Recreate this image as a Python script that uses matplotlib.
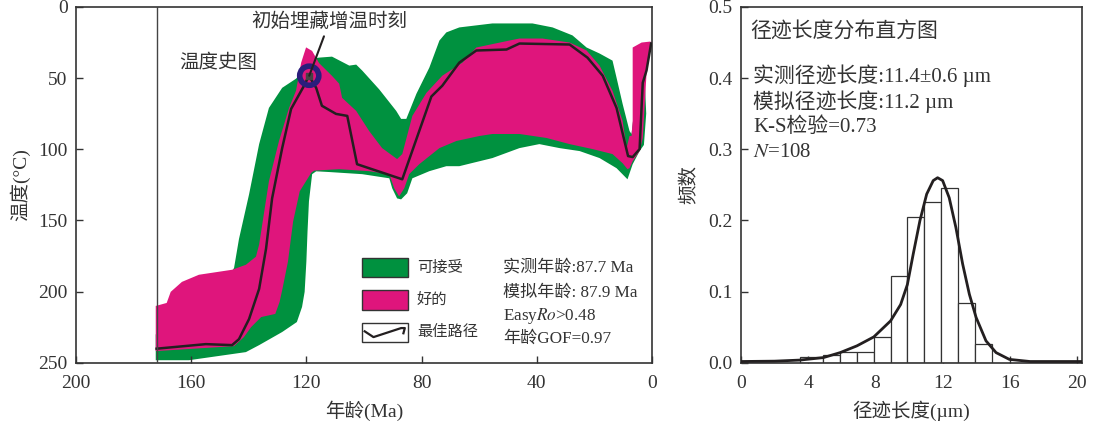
import matplotlib
matplotlib.use("Agg")
import matplotlib.pyplot as plt
from matplotlib.patches import Polygon, Rectangle

plt.rcParams['font.family'] = ['Liberation Serif', 'Noto Sans CJK SC']
plt.rcParams['mathtext.fontset'] = 'stix'
plt.rcParams['axes.unicode_minus'] = False

# ---- thermal history (age in Ma, temperature in degC) ----
accept_age = [172.3, 145.8, 145.1, 143.4, 139.9, 136.4, 133.0, 128.4, 123.6, 121.0, 118.0,
              115.6, 111.1, 105.1, 102.7, 100.6, 94.7, 88.8, 87.1, 85.3, 81.8, 77.3, 73.8,
              71.4, 66.9, 55.4, 41.5, 34.5, 27.6, 22.7, 18.2, 13.7, 12.3, 10.2, 7.8, 7.1,
              6.0, 2.5, 2.0, 2.8, 4.3, 6.7, 8.5, 12.3, 18.2, 25.1, 32.1, 39.1, 46.0, 55.4,
              66.9, 71.4, 77.3, 83.2, 85.0, 87.1, 88.5, 90.2, 91.2, 100.6, 112.1, 116.6,
              118.0, 119.1, 119.6, 120.0, 120.6, 121.5, 123.3, 128.4, 136.4, 141.0, 160.8,
              172.3]
accept_temp = [230.0, 186.0, 183.2, 163.0, 131.7, 96.4, 71.0, 56.9, 50.5, 45.0, 36.4,
               35.7, 35.0, 41.3, 40.6, 44.8, 58.0, 73.1, 78.7, 78.7, 61.1, 42.7, 23.7,
               18.0, 14.5, 11.7, 11.7, 14.5, 20.1, 28.6, 32.8, 37.8, 49.8, 68.1, 87.2, 89.3,
               70.0, 52.0, 75.0, 97.0, 101.3, 110.5, 121.1, 113.3, 106.2, 101.3, 99.2, 96.4,
               99.2, 106.2, 111.9, 111.9, 115.4, 120.4, 130.9, 135.2, 134.5, 127.4, 120.4,
               117.5, 116.0, 115.5, 117.5, 136.5, 157.8, 178.9, 200.1, 210.7, 221.3, 228.3,
               237.5, 242.4, 248.1, 248.1]

good_age = [172.3, 168.5, 167.1, 163.2, 157.3, 145.8, 141.0, 137.5, 136.4, 133.0, 129.5,
            126.0, 123.6, 121.8, 120.1, 118.0, 115.6, 111.1, 108.6, 107.6, 102.7, 98.2,
            93.7, 88.5, 86.7, 83.2, 78.3, 72.8, 65.8, 61.0, 49.5, 46.0, 38.0, 28.6, 22.7,
            18.2, 13.7, 10.2, 8.8, 7.8, 7.1, 6.7, 6.7, 3.6, 0.5, 0.3, 1.9, 3.2, 4.3, 6.7,
            7.8, 8.5, 10.2, 13.7, 20.6, 28.6, 36.6, 46.0, 55.4, 59.9, 67.9, 73.8, 80.8,
            84.3, 86.0, 87.8, 89.5, 91.2, 98.2, 108.6, 117.3, 118.3, 122.3, 124.6, 126.4,
            128.3, 129.3, 130.8, 135.7, 139.2, 141.7, 145.1, 172.3]
good_temp = [210.0, 207.9, 200.1, 193.1, 188.1, 184.6, 181.1, 175.4, 166.9, 122.5, 94.2,
             71.0, 59.0, 39.2, 28.5, 31.0, 39.5, 48.5, 54.0, 63.9, 73.1, 87.2,
             99.2, 106.9, 103.4, 76.6, 60.4, 48.4, 39.2, 28.6, 23.7, 22.3, 22.3, 25.1, 30.7,
             41.3, 59.0, 80.1, 99.2, 90.7, 90.7, 80.1, 28.6, 25.1, 24.4, 27.2, 47.0, 92.1,
             101.3, 108.4, 113.3, 114.0, 109.8, 103.4, 99.9, 96.4, 92.1, 89.3, 89.3, 90.7,
             94.2, 99.2, 110.5, 117.5, 127.4, 133.1, 127.4, 117.5, 115.4, 114.0, 115.0, 116.5,
             129.5, 150.7, 178.9, 198.0, 207.2, 215.6, 217.8, 224.9, 231.9, 238.2, 241.7]

best_age = [172.0, 154.9, 145.8, 143.4, 139.9, 136.4, 134.0, 131.9, 128.4, 125.3, 120.8,
            119.1, 116.6, 114.6, 109.7, 105.8, 102.4, 86.7, 76.6, 72.8, 66.9, 61.0, 50.5,
            46.0, 28.6, 22.4, 17.1, 12.3, 8.3, 6.7, 4.3, 3.2, 1.9, 0.3]
best_temp = [240.0, 236.8, 237.5, 233.3, 219.2, 198.0, 169.8, 134.5, 99.2, 71.7, 55.4,
             48.4, 56.9, 69.5, 75.2, 76.6, 110.5, 121.1, 63.0, 55.4, 39.2, 30.7, 30.0,
             25.8, 26.5, 35.7, 48.4, 71.0, 104.8, 105.5, 99.9, 53.3, 44.8, 25.8]

onset_age, onset_temp = 119.0, 48.4
model_start = 172.0

# ---- track length histogram ----
bin_edges = [3.5, 4.9, 5.9, 6.9, 7.9, 8.9, 9.9, 10.9, 11.9, 12.9, 13.9, 14.95]
freq = [0.0088, 0.011, 0.016, 0.016, 0.0365, 0.122, 0.205, 0.226, 0.245, 0.084, 0.026]
curve_len = [0.0, 2.0, 3.5, 4.9, 5.9, 6.9, 7.9, 8.9, 9.5, 9.9, 10.25, 10.65, 11.05, 11.44,
             11.7, 12.0, 12.39, 12.79, 13.19, 13.59, 13.99, 14.58, 15.18, 15.97, 17.2, 20.3]
curve_freq = [0.002, 0.0025, 0.004, 0.0075, 0.0145, 0.024, 0.0365, 0.059, 0.082, 0.11,
              0.153, 0.2, 0.237, 0.256, 0.26, 0.256, 0.232, 0.19, 0.139, 0.0965, 0.064,
              0.031, 0.0145, 0.005, 0.002, 0.002]

GREEN = '#00913f'
PINK = '#df157c'
INK = '#231f20'
TXT = '#333333'
FS = 14

fig = plt.figure(figsize=(10.93, 4.23), dpi=100)

# ================= left: temperature history =================
ax = fig.add_axes([0.0695, 0.142, 0.527, 0.842])
ax.add_patch(Polygon(list(zip(accept_age, accept_temp)), closed=True,
                     facecolor=GREEN, edgecolor='none', zorder=1))
ax.add_patch(Polygon(list(zip(good_age, good_temp)), closed=True,
                     facecolor=PINK, edgecolor='none', zorder=2))
ax.plot(best_age, best_temp, color=INK, lw=1.8, zorder=3)
ax.axvline(model_start, color='#444444', lw=1.0, zorder=4)

ax.annotate('初始埋藏增温时刻', xy=(onset_age, onset_temp), xytext=(0.44, 0.958),
            textcoords='axes fraction', ha='center', va='center', fontsize=FS,
            color=TXT,
            arrowprops=dict(arrowstyle='-', color=INK, lw=1.5, shrinkA=2, shrinkB=0),
            zorder=7)
ax.scatter([onset_age], [onset_temp], s=190, facecolors='none', edgecolors='#2b1d7c',
           linewidths=4.0, zorder=5)
ax.scatter([onset_age], [onset_temp], s=14, marker='s', color='#444444', zorder=6)

ax.text(0.18, 0.843, '温度史图', transform=ax.transAxes, fontsize=FS,
        ha='left', va='center', color=TXT)

# legend drawn by hand
lx0, lw_, lh = 0.4965, 0.08, 0.054
for y0, fc in [(0.2416, GREEN), (0.150, PINK), (0.059, 'white')]:
    ax.add_patch(Rectangle((lx0, y0), lw_, lh, transform=ax.transAxes, facecolor=fc,
                           edgecolor=TXT, lw=1.0, zorder=8))
zx = [lx0 + lw_ * f for f in (0.06, 0.25, 0.85, 0.93, 0.90)]
zy = [0.059 + lh * f for f in (0.55, 0.25, 0.72, 0.72, 0.45)]
ax.plot(zx, zy, transform=ax.transAxes, color=INK, lw=1.6, zorder=9)

for yy, s in [(0.267, '可接受'), (0.177, '好的'), (0.086, '最佳路径')]:
    ax.text(0.592, yy, s, transform=ax.transAxes, fontsize=11, ha='left',
            va='center', color=TXT)
for yy, s in [(0.267, '实测年龄:87.7 Ma'), (0.197, '模拟年龄: 87.9 Ma'),
              (0.132, r'Easy$\mathit{Ro}$>0.48'), (0.068, '年龄GOF=0.97')]:
    ax.text(0.741, yy, s, transform=ax.transAxes, fontsize=12.3, ha='left',
            va='center', color=TXT)

ax.set_xlim(200, 0)
ax.set_ylim(250, 0)
ax.set_xticks([200, 160, 120, 80, 40, 0])
ax.set_yticks([0, 50, 100, 150, 200, 250])
ax.tick_params(direction='in', length=5, width=1, labelsize=FS, colors=TXT, pad=6)
ax.tick_params(axis='x', pad=9)
ax.set_xlabel('年龄(Ma)', fontsize=FS, color=TXT)
ax.set_ylabel('温度(°C)', fontsize=FS, color=TXT)
ax.xaxis.set_label_coords(0.5, -0.105)
ax.yaxis.set_label_coords(-0.08, 0.5)
for sp in ax.spines.values():
    sp.set_color(TXT)
    sp.set_linewidth(1.2)

# ================= right: track length histogram =================
bx = fig.add_axes([0.678, 0.142, 0.312, 0.842])
widths = [b - a for a, b in zip(bin_edges[:-1], bin_edges[1:])]
bx.bar(bin_edges[:-1], freq, width=widths, align='edge', facecolor='white',
       edgecolor=TXT, lw=0.9, zorder=2)
bx.plot(curve_len, curve_freq, color=INK, lw=2.0, zorder=3)

bx.text(0.026, 0.928, '径迹长度分布直方图', transform=bx.transAxes, fontsize=15,
        ha='left', va='center', color=TXT)
for yy, s in [(0.806, '实测径迹长度:11.4±0.6 µm'), (0.734, '模拟径迹长度:11.2 µm'),
              (0.663, 'K-S检验=0.73'), (0.590, r'$N$=108')]:
    bx.text(0.035, yy, s, transform=bx.transAxes, fontsize=15, ha='left',
            va='center', color=TXT)

bx.set_xlim(0, 20.3)
bx.set_ylim(0, 0.5)
bx.set_xticks([0, 4, 8, 12, 16, 20])
bx.set_yticks([0.0, 0.1, 0.2, 0.3, 0.4, 0.5])
bx.set_yticklabels(['0.0', '0.1', '0.2', '0.3', '0.4', '0.5'])
bx.tick_params(direction='in', length=5, width=1, labelsize=FS, colors=TXT, pad=6)
bx.tick_params(axis='x', pad=9)
bx.set_xlabel('径迹长度(µm)', fontsize=FS, color=TXT)
bx.set_ylabel('频数', fontsize=FS, color=TXT)
bx.xaxis.set_label_coords(0.5, -0.105)
bx.yaxis.set_label_coords(-0.125, 0.5)
for sp in bx.spines.values():
    sp.set_color(TXT)
    sp.set_linewidth(1.2)

fig.savefig('out.png', dpi=100)
